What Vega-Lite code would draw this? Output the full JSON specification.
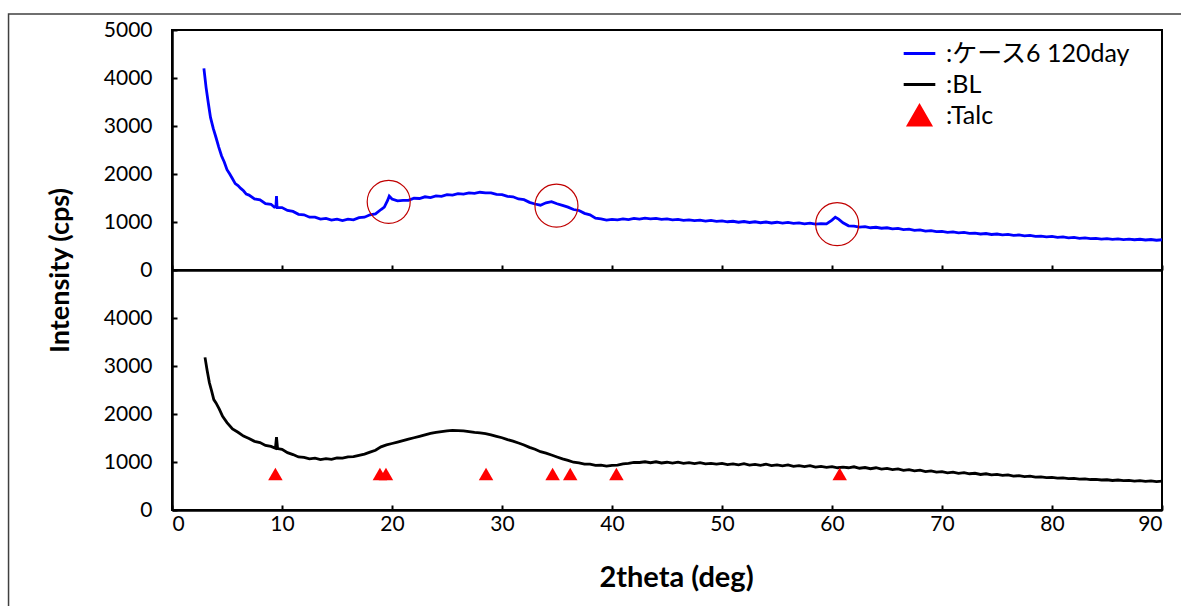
{
  "$schema": "https://vega.github.io/schema/vega-lite/v6.json",
  "background": "white",
  "padding": {"left": 6, "top": 12, "right": 0, "bottom": 0},
  "bounds": "flush",
  "spacing": 0,
  "config": {
    "view": {"stroke": "black", "strokeWidth": 2},
    "font": "Lato",
    "axis": {"labelFont": "Lato", "labelFontSize": 21, "labelColor": "black", "domainColor": "black", "domainWidth": 2.5, "tickColor": "black", "tickWidth": 2, "tickSize": -5, "grid": false, "titleFont": "Lato", "titleFontWeight": "bold", "titleFontSize": 27, "titleColor": "black", "format": "d"}
  },
  "datasets": {
    "case6": [
      {"x":2.9,"y":4200},{"x":3.1,"y":3800},{"x":3.3,"y":3480},{"x":3.5,"y":3180},{"x":3.75,"y":2950},{"x":4.0,"y":2760},{"x":4.25,"y":2560},{"x":4.5,"y":2380},{"x":4.75,"y":2250},{"x":5.0,"y":2090},{"x":5.25,"y":2000},{"x":5.5,"y":1900},{"x":5.75,"y":1800},{"x":6.0,"y":1760},{"x":6.25,"y":1700},{"x":6.5,"y":1650},{"x":6.75,"y":1580},{"x":7.0,"y":1560},{"x":7.5,"y":1480},{"x":8.0,"y":1460},{"x":8.5,"y":1380},{"x":9.0,"y":1370},{"x":9.3,"y":1310},{"x":9.45,"y":1330},{"x":9.5,"y":1540},{"x":9.55,"y":1300},{"x":10.0,"y":1300},{"x":10.5,"y":1240},{"x":11.0,"y":1220},{"x":11.5,"y":1160},{"x":12.0,"y":1150},{"x":12.5,"y":1100},{"x":13.0,"y":1100},{"x":13.5,"y":1060},{"x":14.0,"y":1075},{"x":14.5,"y":1040},{"x":15.0,"y":1060},{"x":15.5,"y":1030},{"x":16.0,"y":1060},{"x":16.5,"y":1045},{"x":17.0,"y":1090},{"x":17.5,"y":1100},{"x":18.0,"y":1150},{"x":18.5,"y":1170},{"x":19.0,"y":1260},{"x":19.3,"y":1310},{"x":19.6,"y":1450},{"x":19.75,"y":1540},{"x":20.0,"y":1480},{"x":20.5,"y":1440},{"x":21.0,"y":1450},{"x":21.5,"y":1450},{"x":22.0,"y":1495},{"x":22.5,"y":1490},{"x":23.0,"y":1525},{"x":23.5,"y":1510},{"x":24.0,"y":1545},{"x":24.5,"y":1535},{"x":25.0,"y":1570},{"x":25.5,"y":1560},{"x":26.0,"y":1590},{"x":26.5,"y":1580},{"x":27.0,"y":1605},{"x":27.5,"y":1595},{"x":28.0,"y":1620},{"x":28.5,"y":1605},{"x":29.0,"y":1605},{"x":29.5,"y":1575},{"x":30.0,"y":1570},{"x":30.5,"y":1535},{"x":31.0,"y":1525},{"x":31.5,"y":1480},{"x":32.0,"y":1465},{"x":32.5,"y":1410},{"x":33.0,"y":1375},{"x":33.5,"y":1350},{"x":34.0,"y":1400},{"x":34.5,"y":1425},{"x":35.0,"y":1380},{"x":35.5,"y":1345},{"x":36.0,"y":1310},{"x":36.5,"y":1260},{"x":37.0,"y":1240},{"x":37.5,"y":1180},{"x":38.0,"y":1150},{"x":38.5,"y":1080},{"x":39.0,"y":1065},{"x":39.5,"y":1040},{"x":40.0,"y":1055},{"x":40.5,"y":1045},{"x":41.0,"y":1065},{"x":41.5,"y":1050},{"x":42.0,"y":1075},{"x":42.5,"y":1060},{"x":43.0,"y":1080},{"x":43.5,"y":1065},{"x":44.0,"y":1075},{"x":44.5,"y":1055},{"x":45.0,"y":1065},{"x":45.5,"y":1045},{"x":46.0,"y":1055},{"x":46.5,"y":1035},{"x":47.0,"y":1045},{"x":47.5,"y":1030},{"x":48.0,"y":1040},{"x":48.5,"y":1020},{"x":49.0,"y":1035},{"x":49.5,"y":1015},{"x":50.0,"y":1025},{"x":50.5,"y":1005},{"x":51.0,"y":1015},{"x":51.5,"y":995},{"x":52.0,"y":1010},{"x":52.5,"y":990},{"x":53.0,"y":1005},{"x":53.5,"y":985},{"x":54.0,"y":1000},{"x":54.5,"y":980},{"x":55.0,"y":995},{"x":55.5,"y":975},{"x":56.0,"y":990},{"x":56.5,"y":970},{"x":57.0,"y":980},{"x":57.5,"y":960},{"x":58.0,"y":975},{"x":58.5,"y":955},{"x":59.0,"y":965},{"x":59.5,"y":960},{"x":60.0,"y":1040},{"x":60.3,"y":1100},{"x":60.6,"y":1060},{"x":61.0,"y":985},{"x":61.5,"y":920},{"x":62.0,"y":915},{"x":62.5,"y":895},{"x":63.0,"y":905},{"x":63.5,"y":880},{"x":64.0,"y":890},{"x":64.5,"y":870},{"x":65.0,"y":880},{"x":65.5,"y":855},{"x":66.0,"y":865},{"x":66.5,"y":840},{"x":67.0,"y":850},{"x":67.5,"y":825},{"x":68.0,"y":835},{"x":68.5,"y":810},{"x":69.0,"y":820},{"x":69.5,"y":800},{"x":70.0,"y":805},{"x":70.5,"y":785},{"x":71.0,"y":795},{"x":71.5,"y":775},{"x":72.0,"y":785},{"x":72.5,"y":765},{"x":73.0,"y":770},{"x":73.5,"y":750},{"x":74.0,"y":760},{"x":74.5,"y":740},{"x":75.0,"y":750},{"x":75.5,"y":730},{"x":76.0,"y":740},{"x":76.5,"y":720},{"x":77.0,"y":730},{"x":77.5,"y":710},{"x":78.0,"y":720},{"x":78.5,"y":700},{"x":79.0,"y":705},{"x":79.5,"y":690},{"x":80.0,"y":700},{"x":80.5,"y":680},{"x":81.0,"y":690},{"x":81.5,"y":670},{"x":82.0,"y":680},{"x":82.5,"y":660},{"x":83.0,"y":670},{"x":83.5,"y":655},{"x":84.0,"y":660},{"x":84.5,"y":645},{"x":85.0,"y":655},{"x":85.5,"y":640},{"x":86.0,"y":650},{"x":86.5,"y":635},{"x":87.0,"y":645},{"x":87.5,"y":630},{"x":88.0,"y":640},{"x":88.5,"y":625},{"x":89.0,"y":635},{"x":89.5,"y":620},{"x":90.0,"y":630}
    ],
    "bl": [
      {"x":3.0,"y":3180},{"x":3.2,"y":2900},{"x":3.4,"y":2650},{"x":3.6,"y":2480},{"x":3.8,"y":2300},{"x":4.0,"y":2230},{"x":4.3,"y":2100},{"x":4.6,"y":1950},{"x":5.0,"y":1820},{"x":5.5,"y":1690},{"x":6.0,"y":1620},{"x":6.5,"y":1540},{"x":7.0,"y":1490},{"x":7.5,"y":1430},{"x":8.0,"y":1405},{"x":8.5,"y":1345},{"x":9.0,"y":1325},{"x":9.4,"y":1285},{"x":9.5,"y":1520},{"x":9.6,"y":1280},{"x":10.0,"y":1265},{"x":10.5,"y":1195},{"x":11.0,"y":1155},{"x":11.5,"y":1105},{"x":12.0,"y":1095},{"x":12.5,"y":1065},{"x":13.0,"y":1080},{"x":13.5,"y":1050},{"x":14.0,"y":1070},{"x":14.5,"y":1055},{"x":15.0,"y":1085},{"x":15.5,"y":1080},{"x":16.0,"y":1105},{"x":16.5,"y":1110},{"x":17.0,"y":1140},{"x":17.5,"y":1165},{"x":18.0,"y":1205},{"x":18.5,"y":1245},{"x":19.0,"y":1315},{"x":19.5,"y":1355},{"x":20.0,"y":1385},{"x":20.5,"y":1415},{"x":21.0,"y":1445},{"x":21.5,"y":1475},{"x":22.0,"y":1505},{"x":22.5,"y":1535},{"x":23.0,"y":1565},{"x":23.5,"y":1595},{"x":24.0,"y":1615},{"x":24.5,"y":1635},{"x":25.0,"y":1650},{"x":25.5,"y":1660},{"x":26.0,"y":1655},{"x":26.5,"y":1650},{"x":27.0,"y":1635},{"x":27.5,"y":1615},{"x":28.0,"y":1605},{"x":28.5,"y":1590},{"x":29.0,"y":1565},{"x":29.5,"y":1535},{"x":30.0,"y":1505},{"x":30.5,"y":1465},{"x":31.0,"y":1435},{"x":31.5,"y":1395},{"x":32.0,"y":1355},{"x":32.5,"y":1305},{"x":33.0,"y":1265},{"x":33.5,"y":1215},{"x":34.0,"y":1185},{"x":34.5,"y":1145},{"x":35.0,"y":1105},{"x":35.5,"y":1065},{"x":36.0,"y":1035},{"x":36.5,"y":995},{"x":37.0,"y":980},{"x":37.5,"y":955},{"x":38.0,"y":955},{"x":38.5,"y":930},{"x":39.0,"y":935},{"x":39.5,"y":915},{"x":40.0,"y":930},{"x":40.5,"y":935},{"x":41.0,"y":960},{"x":41.5,"y":970},{"x":42.0,"y":990},{"x":42.5,"y":990},{"x":43.0,"y":1005},{"x":43.5,"y":985},{"x":44.0,"y":1005},{"x":44.5,"y":980},{"x":45.0,"y":995},{"x":45.5,"y":975},{"x":46.0,"y":995},{"x":46.5,"y":970},{"x":47.0,"y":985},{"x":47.5,"y":965},{"x":48.0,"y":985},{"x":48.5,"y":960},{"x":49.0,"y":970},{"x":49.5,"y":955},{"x":50.0,"y":970},{"x":50.5,"y":945},{"x":51.0,"y":960},{"x":51.5,"y":940},{"x":52.0,"y":965},{"x":52.5,"y":935},{"x":53.0,"y":950},{"x":53.5,"y":930},{"x":54.0,"y":955},{"x":54.5,"y":925},{"x":55.0,"y":940},{"x":55.5,"y":920},{"x":56.0,"y":940},{"x":56.5,"y":910},{"x":57.0,"y":925},{"x":57.5,"y":905},{"x":58.0,"y":925},{"x":58.5,"y":895},{"x":59.0,"y":910},{"x":59.5,"y":890},{"x":60.0,"y":905},{"x":60.5,"y":880},{"x":61.0,"y":895},{"x":61.5,"y":880},{"x":62.0,"y":900},{"x":62.5,"y":870},{"x":63.0,"y":885},{"x":63.5,"y":860},{"x":64.0,"y":880},{"x":64.5,"y":850},{"x":65.0,"y":865},{"x":65.5,"y":840},{"x":66.0,"y":855},{"x":66.5,"y":825},{"x":67.0,"y":840},{"x":67.5,"y":815},{"x":68.0,"y":830},{"x":68.5,"y":800},{"x":69.0,"y":815},{"x":69.5,"y":790},{"x":70.0,"y":800},{"x":70.5,"y":775},{"x":71.0,"y":790},{"x":71.5,"y":765},{"x":72.0,"y":780},{"x":72.5,"y":755},{"x":73.0,"y":765},{"x":73.5,"y":740},{"x":74.0,"y":755},{"x":74.5,"y":730},{"x":75.0,"y":740},{"x":75.5,"y":720},{"x":76.0,"y":730},{"x":76.5,"y":705},{"x":77.0,"y":715},{"x":77.5,"y":695},{"x":78.0,"y":705},{"x":78.5,"y":685},{"x":79.0,"y":690},{"x":79.5,"y":675},{"x":80.0,"y":680},{"x":80.5,"y":665},{"x":81.0,"y":670},{"x":81.5,"y":655},{"x":82.0,"y":660},{"x":82.5,"y":645},{"x":83.0,"y":650},{"x":83.5,"y":635},{"x":84.0,"y":640},{"x":84.5,"y":625},{"x":85.0,"y":630},{"x":85.5,"y":615},{"x":86.0,"y":625},{"x":86.5,"y":610},{"x":87.0,"y":615},{"x":87.5,"y":600},{"x":88.0,"y":610},{"x":88.5,"y":595},{"x":89.0,"y":605},{"x":89.5,"y":590},{"x":90.0,"y":600}
    ],
    "talc": [
      {"x":9.4,"y":750},{"x":18.9,"y":750},{"x":19.45,"y":750},{"x":28.55,"y":750},{"x":34.6,"y":750},{"x":36.2,"y":750},{"x":40.4,"y":750},{"x":60.7,"y":750}
    ],
    "circles": [
      {"x":19.7,"y":1420},{"x":34.95,"y":1340},{"x":60.47,"y":955}
    ]
  },
  "vconcat": [
    {
      "width": 990,
      "height": 240,
      "layer": [
        {
          "data": {"name": "case6"},
          "mark": {"type": "line", "strokeWidth": 2.8, "clip": true},
          "encoding": {
            "x": {"field": "x", "type": "quantitative", "scale": {"domain": [0, 90], "nice": false, "zero": false},
                  "axis": {"values": [0,10,20,30,40,50,60,70,80,90], "labels": false, "title": null}},
            "y": {"field": "y", "type": "quantitative", "scale": {"domain": [0, 5000], "nice": false},
                  "axis": {"values": [0,1000,2000,3000,4000,5000], "labelPadding": 25, "title": "Intensity (cps)", "titleAngle": -90, "titleX": -104, "titleY": 240, "titleAlign": "center", "titleBaseline": "alphabetic"}},
            "color": {"datum": ":ケース6 120day", "type": "nominal",
                      "scale": {"domain": [":ケース6 120day", ":BL", ":Talc"], "range": ["#0000FF", "#000000", "#FF0000"]},
                      "legend": {
                        "orient": "none", "legendX": 730, "legendY": 6, "title": null, "padding": 0,
                        "labelFont": "Lato, Noto Sans CJK JP", "labelFontSize": 25, "labelColor": "black", "labelOffset": 9, "labelLimit": 0,
                        "symbolSize": 1000, "symbolStrokeWidth": 3, "rowPadding": 0,
                        "encode": {"symbols": {"update": {
                          "shape": {"signal": "datum.label === ':Talc' ? 'triangle-up' : 'stroke'"},
                          "fill": {"signal": "datum.label === ':Talc' ? '#FF0000' : 'transparent'"},
                          "stroke": {"signal": "datum.label === ':Talc' ? 'transparent' : (datum.label === ':BL' ? '#000000' : '#0000FF')"},
                          "size": {"signal": "datum.label === ':Talc' ? 480 : 1000"}
                        }}}
                      }}
          }
        },
        {
          "data": {"name": "circles"},
          "mark": {"type": "point", "shape": "circle", "filled": false, "size": 1850, "stroke": "#C00000", "strokeWidth": 1.2, "opacity": 1},
          "encoding": {
            "x": {"field": "x", "type": "quantitative"},
            "y": {"field": "y", "type": "quantitative"}
          }
        },
        {
          "data": {"values": [{}]},
          "mark": {"type": "rect", "fillOpacity": 0, "stroke": "#404040", "strokeWidth": 1.5, "clip": false},
          "encoding": {
            "x": {"datum": -14.86, "type": "quantitative"},
            "x2": {"datum": 95},
            "y": {"datum": 5333, "type": "quantitative"},
            "y2": {"datum": -7500}
          }
        }
      ]
    },
    {
      "width": 990,
      "height": 240,
      "layer": [
        {
          "data": {"name": "bl"},
          "mark": {"type": "line", "strokeWidth": 2.8, "color": "#000000", "clip": true},
          "encoding": {
            "x": {"field": "x", "type": "quantitative", "scale": {"domain": [0, 90], "nice": false, "zero": false},
                  "axis": {"values": [0,10,20,30,40,50,60,70,80,90], "labelPadding": 8, "title": "2theta (deg)", "titleFontSize": 29, "titleX": 504, "titleY": 76, "titleAlign": "center", "titleBaseline": "alphabetic"}},
            "y": {"field": "y", "type": "quantitative", "scale": {"domain": [0, 5000], "nice": false},
                  "axis": {"values": [0,1000,2000,3000,4000], "labelPadding": 25, "title": null}}
          }
        },
        {
          "data": {"name": "talc"},
          "mark": {"type": "point", "shape": "triangle-up", "filled": true, "size": 210, "color": "#FF0000", "opacity": 1},
          "encoding": {
            "x": {"field": "x", "type": "quantitative"},
            "y": {"field": "y", "type": "quantitative"}
          }
        }
      ]
    }
  ]
}
